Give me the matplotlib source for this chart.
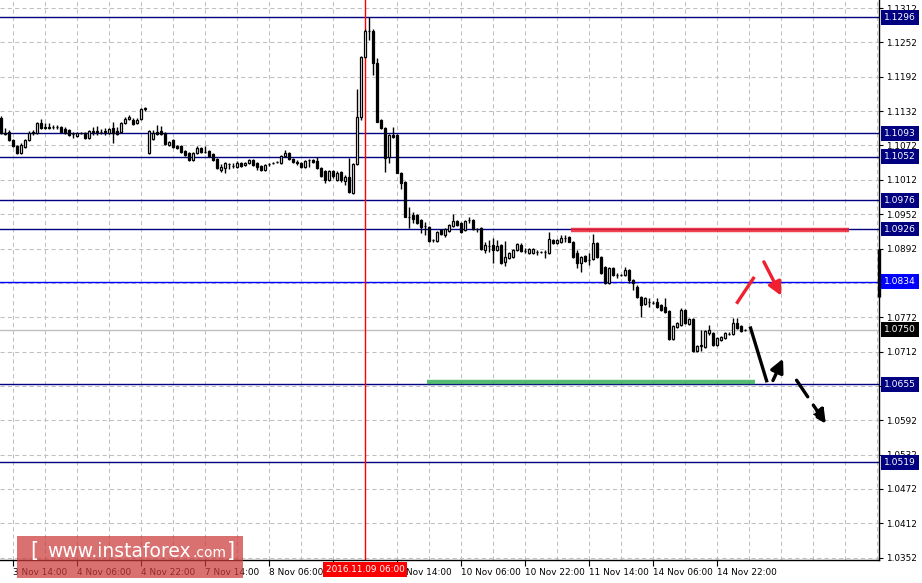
import matplotlib
matplotlib.use('Agg')
import matplotlib.pyplot as plt
import matplotlib.transforms as mtransforms
from matplotlib.patches import Rectangle

plt.rcParams['font.family'] = ['DejaVu Sans']

# EURUSD H1 candles, 3 Nov 11:00 .. 14 Nov 23:00 (trading hours only)
opens = [
    1.1120, 1.1094, 1.1095, 1.1081, 1.1071, 1.1059, 1.1069, 1.1081, 1.1094, 1.1094,
    1.1111, 1.1102, 1.1104, 1.1104, 1.1104, 1.1104, 1.1101, 1.1099, 1.1092, 1.1088,
    1.1094, 1.1094, 1.1085, 1.1095, 1.1097, 1.1095, 1.1095, 1.1094, 1.1102, 1.1097,
    1.1095, 1.1111, 1.1118, 1.1116, 1.1111, 1.1118, 1.1135, 1.1059, 1.1083, 1.1095,
    1.1097, 1.1094, 1.1073, 1.1081, 1.1071, 1.1071, 1.1062, 1.1059, 1.1046, 1.1059,
    1.1067, 1.1060, 1.1062, 1.1057, 1.1048, 1.1029, 1.1032, 1.1039, 1.1036, 1.1034,
    1.1041, 1.1038, 1.1041, 1.1046, 1.1041, 1.1036, 1.1029, 1.1039, 1.1041, 1.1043,
    1.1041, 1.1053, 1.1059, 1.1048, 1.1043, 1.1041, 1.1034, 1.1046, 1.1046, 1.1045,
    1.1032, 1.1027, 1.1011, 1.1027, 1.1011, 1.1025, 1.1010, 1.1017, 1.0989, 1.1039,
    1.1122, 1.1226, 1.1272, 1.1272, 1.1216, 1.1116, 1.1102, 1.1052, 1.1090, 1.1090,
    1.1024, 1.1008, 1.0947, 1.0950, 1.0950, 1.0942, 1.0931, 1.0929, 1.0907, 1.0905,
    1.0924, 1.0915, 1.0922, 1.0931, 1.0940, 1.0936, 1.0924, 1.0942, 1.0942, 1.0926,
    1.0928, 1.0889, 1.0896, 1.0898, 1.0889, 1.0898, 1.0869, 1.0876, 1.0877, 1.0889,
    1.0898, 1.0888, 1.0884, 1.0884, 1.0886, 1.0886, 1.0886, 1.0884, 1.0907, 1.0902,
    1.0903, 1.0910, 1.0912, 1.0903, 1.0884, 1.0867, 1.0879, 1.0872, 1.0874, 1.0902,
    1.0877, 1.0860, 1.0832, 1.0858, 1.0846, 1.0846, 1.0846, 1.0854, 1.0837, 1.0825,
    1.0807, 1.0795, 1.0798, 1.0797, 1.0798, 1.0793, 1.0790, 1.0783, 1.0734, 1.0755,
    1.0758, 1.0784, 1.0760, 1.0769, 1.0713, 1.0721, 1.0720, 1.0744, 1.0744, 1.0723,
    1.0732, 1.0735, 1.0742, 1.0742, 1.0762, 1.0757, 1.0750,
]
highs = [
    1.1123, 1.1102, 1.1099, 1.1083, 1.1073, 1.1076, 1.1083, 1.1097, 1.1099, 1.1113,
    1.1118, 1.1111, 1.1111, 1.1107, 1.1107, 1.1106, 1.1104, 1.1101, 1.1095, 1.1095,
    1.1095, 1.1095, 1.1099, 1.1104, 1.1106, 1.1101, 1.1102, 1.1102, 1.1113, 1.1104,
    1.1113, 1.1122, 1.1125, 1.1120, 1.1120, 1.1137, 1.1139, 1.1099, 1.1099, 1.1107,
    1.1106, 1.1095, 1.1080, 1.1083, 1.1073, 1.1073, 1.1064, 1.1060, 1.1060, 1.1071,
    1.1069, 1.1071, 1.1064, 1.1059, 1.1050, 1.1039, 1.1043, 1.1041, 1.1041, 1.1045,
    1.1043, 1.1043, 1.1048, 1.1048, 1.1043, 1.1038, 1.1039, 1.1041, 1.1043, 1.1045,
    1.1055, 1.1064, 1.1060, 1.1050, 1.1046, 1.1043, 1.1046, 1.1048, 1.1048, 1.1052,
    1.1034, 1.1029, 1.1029, 1.1029, 1.1027, 1.1027, 1.1020, 1.1050, 1.1041, 1.1170,
    1.1228, 1.1275, 1.1296, 1.1275, 1.1224, 1.1118, 1.1104, 1.1092, 1.1104, 1.1092,
    1.1025, 1.1010, 1.0964, 1.0955, 1.0952, 1.0943, 1.0938, 1.0931, 1.0909, 1.0922,
    1.0926, 1.0928, 1.0935, 1.0952, 1.0942, 1.0938, 1.0942, 1.0947, 1.0943, 1.0928,
    1.0929, 1.0903, 1.0907, 1.0910, 1.0907, 1.0900, 1.0905, 1.0886, 1.0891, 1.0902,
    1.0902, 1.0893, 1.0893, 1.0893, 1.0889, 1.0888, 1.0889, 1.0921, 1.0909, 1.0909,
    1.0915, 1.0915, 1.0914, 1.0905, 1.0889, 1.0879, 1.0881, 1.0884, 1.0917, 1.0903,
    1.0879, 1.0862, 1.0860, 1.0860, 1.0849, 1.0847, 1.0860, 1.0856, 1.0839, 1.0828,
    1.0809, 1.0807, 1.0805, 1.0800, 1.0805, 1.0795, 1.0805, 1.0784, 1.0758, 1.0763,
    1.0788, 1.0786, 1.0771, 1.0771, 1.0723, 1.0750, 1.0750, 1.0758, 1.0746, 1.0737,
    1.0739, 1.0746, 1.0746, 1.0771, 1.0771, 1.0758, 1.0751,
]
lows = [
    1.1092, 1.1090, 1.1080, 1.1069, 1.1057, 1.1057, 1.1067, 1.1080, 1.1090, 1.1092,
    1.1101, 1.1101, 1.1101, 1.1101, 1.1101, 1.1094, 1.1092, 1.1088, 1.1085, 1.1087,
    1.1092, 1.1083, 1.1083, 1.1090, 1.1090, 1.1092, 1.1090, 1.1092, 1.1076, 1.1090,
    1.1094, 1.1109, 1.1116, 1.1107, 1.1109, 1.1116, 1.1133, 1.1057, 1.1081, 1.1090,
    1.1090, 1.1073, 1.1071, 1.1067, 1.1066, 1.1059, 1.1053, 1.1045, 1.1045, 1.1057,
    1.1059, 1.1059, 1.1052, 1.1045, 1.1031, 1.1025, 1.1024, 1.1031, 1.1032, 1.1032,
    1.1034, 1.1036, 1.1039, 1.1036, 1.1029, 1.1027, 1.1027, 1.1036, 1.1039, 1.1041,
    1.1039, 1.1052, 1.1046, 1.1041, 1.1038, 1.1032, 1.1032, 1.1034, 1.1041, 1.1031,
    1.1017, 1.1006, 1.1010, 1.1015, 1.1010, 1.1008, 1.1003, 1.0989, 1.0987, 1.1038,
    1.1116, 1.1224, 1.1256, 1.1195, 1.1113, 1.1101, 1.1025, 1.1041, 1.1085, 1.1024,
    1.0996, 1.0947, 1.0928, 1.0936, 1.0934, 1.0919, 1.0915, 1.0903, 1.0903, 1.0903,
    1.0915, 1.0912, 1.0921, 1.0929, 1.0931, 1.0919, 1.0922, 1.0936, 1.0924, 1.0921,
    1.0889, 1.0884, 1.0886, 1.0867, 1.0888, 1.0865, 1.0862, 1.0874, 1.0876, 1.0888,
    1.0886, 1.0884, 1.0882, 1.0882, 1.0881, 1.0884, 1.0876, 1.0882, 1.0900, 1.0900,
    1.0902, 1.0903, 1.0903, 1.0876, 1.0858, 1.0851, 1.0869, 1.0863, 1.0872, 1.0876,
    1.0847, 1.0830, 1.0830, 1.0844, 1.0840, 1.0844, 1.0844, 1.0832, 1.0819, 1.0805,
    1.0772, 1.0793, 1.0790, 1.0795, 1.0788, 1.0783, 1.0779, 1.0732, 1.0732, 1.0753,
    1.0757, 1.0760, 1.0758, 1.0711, 1.0711, 1.0713, 1.0718, 1.0741, 1.0721, 1.0721,
    1.0730, 1.0734, 1.0741, 1.0741, 1.0751, 1.0746, 1.0748,
]
closes = [
    1.1094, 1.1092, 1.1081, 1.1071, 1.1059, 1.1073, 1.1081, 1.1094, 1.1095, 1.1111,
    1.1102, 1.1104, 1.1102, 1.1104, 1.1104, 1.1095, 1.1094, 1.1090, 1.1092, 1.1094,
    1.1094, 1.1085, 1.1097, 1.1097, 1.1095, 1.1095, 1.1097, 1.1101, 1.1094, 1.1092,
    1.1111, 1.1118, 1.1122, 1.1109, 1.1116, 1.1135, 1.1137, 1.1097, 1.1094, 1.1092,
    1.1092, 1.1074, 1.1078, 1.1069, 1.1067, 1.1060, 1.1055, 1.1046, 1.1059, 1.1067,
    1.1060, 1.1060, 1.1053, 1.1046, 1.1032, 1.1034, 1.1041, 1.1039, 1.1036, 1.1041,
    1.1036, 1.1041, 1.1046, 1.1038, 1.1034, 1.1029, 1.1038, 1.1039, 1.1041, 1.1043,
    1.1053, 1.1059, 1.1048, 1.1043, 1.1041, 1.1034, 1.1045, 1.1046, 1.1043, 1.1032,
    1.1018, 1.1011, 1.1027, 1.1018, 1.1024, 1.1011, 1.1017, 1.0990, 1.1039, 1.1122,
    1.1226, 1.1272, 1.1272, 1.1216, 1.1113, 1.1102, 1.1050, 1.1090, 1.1087, 1.1024,
    1.1006, 1.0947, 1.0947, 1.0943, 1.0936, 1.0929, 1.0931, 1.0905, 1.0907, 1.0921,
    1.0917, 1.0926, 1.0933, 1.0940, 1.0933, 1.0921, 1.0940, 1.0942, 1.0926, 1.0926,
    1.0891, 1.0898, 1.0896, 1.0889, 1.0896, 1.0867, 1.0877, 1.0884, 1.0889, 1.0900,
    1.0888, 1.0888, 1.0891, 1.0891, 1.0886, 1.0886, 1.0886, 1.0909, 1.0902, 1.0907,
    1.0910, 1.0910, 1.0903, 1.0877, 1.0867, 1.0877, 1.0870, 1.0872, 1.0902, 1.0877,
    1.0849, 1.0832, 1.0858, 1.0846, 1.0846, 1.0846, 1.0854, 1.0837, 1.0832, 1.0807,
    1.0793, 1.0805, 1.0798, 1.0797, 1.0790, 1.0784, 1.0781, 1.0734, 1.0757, 1.0762,
    1.0784, 1.0762, 1.0769, 1.0713, 1.0721, 1.0723, 1.0748, 1.0750, 1.0723, 1.0735,
    1.0737, 1.0744, 1.0742, 1.0762, 1.0753, 1.0748, 1.0750,
]

# axis labels (values hidden under the level boxes are left blank)
price_ticks = [1.0352, 1.0412, 1.0472, 1.0532, 1.0592, 1.0652, 1.0712, 1.0772,
               1.0832, 1.0892, 1.0952, 1.1012, 1.1072, 1.1132, 1.1192, 1.1252, 1.1312]
price_labels = ['1.0352', '1.0412', '1.0472', '1.0532', '1.0592', '', '1.0712', '1.0772',
                '', '1.0892', '1.0952', '1.1012', '1.1072', '1.1132', '1.1192', '1.1252', '1.1312']
time_tick_bars = [3, 19, 35, 51, 67, 83, 99, 115, 131, 147, 163, 179]
time_tick_labels = ['3 Nov 14:00', '4 Nov 06:00', '4 Nov 22:00', '7 Nov 14:00',
                    '8 Nov 06:00', '', 'Nov 14:00', '10 Nov 06:00',
                    '10 Nov 22:00', '11 Nov 14:00', '14 Nov 06:00', '14 Nov 22:00']
grid_bars = list(range(3, 220, 8))
cursor_bar = 91
cursor_label = '2016.11.09 06:00'

# horizontal levels drawn on the chart
levels = [1.1296, 1.1093, 1.1052, 1.0976, 1.0926, 1.0834, 1.0655, 1.0519]
level_colors = ['#000080', '#000080', '#000080', '#000080', '#000080', '#0000ff', '#000080', '#000080']
last_price = 1.0750

# analyst drawings
resistance = ([142.5, 212.0], [1.0924, 1.0924])
support = ([106.5, 188.5], [1.0659, 1.0659])
red_leg = ([184.1, 188.1], [1.0798, 1.0840])
red_arrow = ((190.4, 1.0873), (195.4, 1.0805))
black_leg = ([187.4, 191.4], [1.0753, 1.0661])
black_up = ((192.7, 1.0657), (195.8, 1.0704))
black_down = ((198.5, 1.0666), (206.6, 1.0582))
volume_mark = ([219.5, 219.5], [1.0807, 1.0891])

fig = plt.figure(figsize=(9.22, 5.83), dpi=100)
ax = fig.add_axes([0, 23 / 583, 879 / 922, 560 / 583])
ax.set_xlim(-0.25, 219.5)
ax.set_ylim(1.0348, 1.1326)

for s in ['top', 'left']:
    ax.spines[s].set_visible(False)
for s in ['right', 'bottom']:
    ax.spines[s].set_color('black')
    ax.spines[s].set_linewidth(1.0)

# grid
grid_kw = dict(color='#c0c0c0', lw=0.75, ls=(0, (4, 3)), zorder=0)
for g in grid_bars:
    ax.axvline(g, **grid_kw)
for p in price_ticks:
    ax.axhline(p, **grid_kw)

# levels
for lv, col in zip(levels, level_colors):
    ax.axhline(lv, color=col, lw=1.0, zorder=1)
ax.axhline(last_price, color='#c0c0c0', lw=1.0, zorder=1)
ax.axvline(cursor_bar, color='red', lw=1.0, zorder=1)

# candles
xs = list(range(len(opens)))
ax.vlines(xs, lows, highs, color='black', lw=1.0, zorder=3)
for x, o, c in zip(xs, opens, closes):
    fc = 'white' if c >= o else 'black'
    ax.bar(x, abs(c - o), bottom=min(o, c), width=0.7, facecolor=fc,
           edgecolor='black', linewidth=0.9, zorder=4)

# drawings
ax.plot(*resistance, color='#f02030', lw=3.2, alpha=0.85, solid_capstyle='butt', zorder=5)
ax.plot(*support, color='#2eaa50', lw=3.2, alpha=0.8, solid_capstyle='butt', zorder=5)
ax.plot(*red_leg, color='#f02030', lw=2.4, zorder=6)
ax.annotate('', xy=red_arrow[1], xytext=red_arrow[0],
            arrowprops=dict(arrowstyle='-|>', color='#f02030', lw=2.4, mutation_scale=20), zorder=6)
ax.plot(*black_leg, color='black', lw=2.4, zorder=6)
ax.annotate('', xy=black_up[1], xytext=black_up[0],
            arrowprops=dict(arrowstyle='-|>', color='black', lw=2.4, mutation_scale=20), zorder=6)
ax.annotate('', xy=black_down[1], xytext=black_down[0],
            arrowprops=dict(arrowstyle='-|>', color='black', lw=2.4, mutation_scale=20,
                            linestyle=(0, (6, 3))), zorder=6)
ax.plot(*volume_mark, color='black', lw=2.4, clip_on=False, solid_capstyle='butt', zorder=6)

# ticks
ax.yaxis.tick_right()
ax.set_yticks(price_ticks, price_labels)
ax.tick_params(axis='y', length=3, width=0.8, pad=2, labelsize=6.4, colors='black')
ax.set_xticks(time_tick_bars, time_tick_labels)
ax.tick_params(axis='x', length=4, width=0.8, pad=2, labelsize=6.4, colors='black')
for k, lab in enumerate(ax.get_xticklabels()):
    lab.set_horizontalalignment('left')
    if time_tick_bars[k] == 99:
        # the "9 " part is covered by the cursor label in the reference
        lab.set_transform(lab.get_transform() + mtransforms.ScaledTranslation(0.09, 0, fig.dpi_scale_trans))

# price labels on the right scale
ytrans = mtransforms.blended_transform_factory(ax.transAxes, ax.transData)
for lv, col in zip(levels + [last_price], level_colors + ['black']):
    ax.text(1.0055, lv, f'{lv:.4f}', transform=ytrans, ha='left', va='center',
            fontsize=6.6, color='white', clip_on=False, zorder=10,
            bbox=dict(boxstyle='square,pad=0.32', fc=col, ec='none'))

# cursor time label
xtrans = mtransforms.blended_transform_factory(ax.transData, ax.transAxes)
ax.text(cursor_bar, -0.017, cursor_label, transform=xtrans, ha='center', va='center',
        fontsize=6.4, color='white', clip_on=False, zorder=10,
        bbox=dict(boxstyle='square,pad=0.3', fc='#ff0000', ec='none'))

# watermark
fig.patches.append(Rectangle((17 / 922, 5 / 583), 226 / 922, 42 / 583, transform=fig.transFigure,
                             facecolor='#cc3a3a', alpha=0.72, edgecolor='none', zorder=20))
fig.text(30 / 922, 26 / 583, '[', fontsize=15, color='white', va='baseline', zorder=21)
fig.text(47 / 922, 26 / 583, 'www.instaforex', fontsize=13.5, color='white', va='baseline', zorder=21)
fig.text(192 / 922, 26 / 583, '.com', fontsize=10, color='white', va='baseline', zorder=21)
fig.text(227 / 922, 26 / 583, ']', fontsize=15, color='white', va='baseline', zorder=21)

fig.savefig('out.png', dpi=100, facecolor='white')
